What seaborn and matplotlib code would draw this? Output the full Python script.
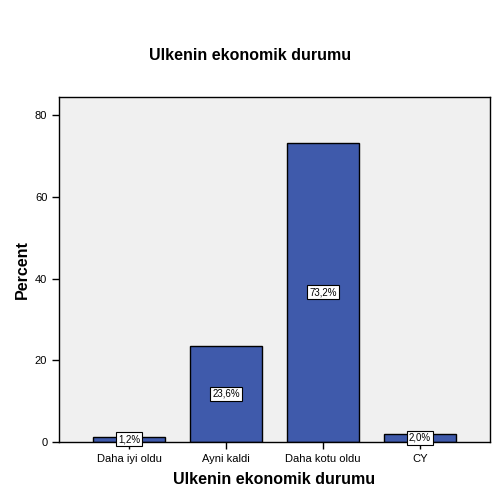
import matplotlib
matplotlib.use("Agg")
import matplotlib.pyplot as plt
import seaborn as sns
import pandas as pd

categories = ["Daha iyi oldu", "Ayni kaldi", "Daha kotu oldu", "CY"]
percents = [1.2, 23.6, 73.2, 2.0]
labels = ["1,2%", "23,6%", "73,2%", "2,0%"]

df = pd.DataFrame({"cat": categories, "pct": percents})

sns.set_style("white")
plt.rcParams["font.family"] = ["Liberation Sans", "DejaVu Sans"]
plt.rcParams["text.color"] = "black"
plt.rcParams["axes.labelcolor"] = "black"

fig = plt.figure(figsize=(5.01, 5.01), dpi=100)
ax = fig.add_axes([0.118, 0.118, 0.860, 0.688])
ax.set_facecolor("#F0F0F0")

sns.barplot(data=df, x="cat", y="pct", color="#3F5AAB", saturation=1,
            width=0.74, edgecolor="black", linewidth=1, ax=ax)

for i, (v, lab) in enumerate(zip(percents, labels)):
    ax.text(i, v / 2, lab, ha="center", va="center", fontsize=7, color="black",
            bbox=dict(boxstyle="square,pad=0.2", fc="white", ec="black", lw=0.8))

ax.set_xlim(-0.72, 3.72)
ax.set_ylim(0, 84.4)
ax.set_yticks([0, 20, 40, 60, 80])
for s in ax.spines.values():
    s.set_visible(True)
    s.set_color("black")
    s.set_linewidth(1)
ax.tick_params(axis="both", direction="out", length=5, width=1, labelsize=8,
               colors="black", left=True, bottom=True)
ax.set_xlabel("Ulkenin ekonomik durumu", fontsize=11.5, fontweight="bold", labelpad=6)
ax.set_ylabel("Percent", fontsize=11.5, fontweight="bold", labelpad=4)
fig.suptitle("Ulkenin ekonomik durumu", fontsize=11.5, fontweight="bold", y=0.905)

fig.savefig("out.png", dpi=100)
